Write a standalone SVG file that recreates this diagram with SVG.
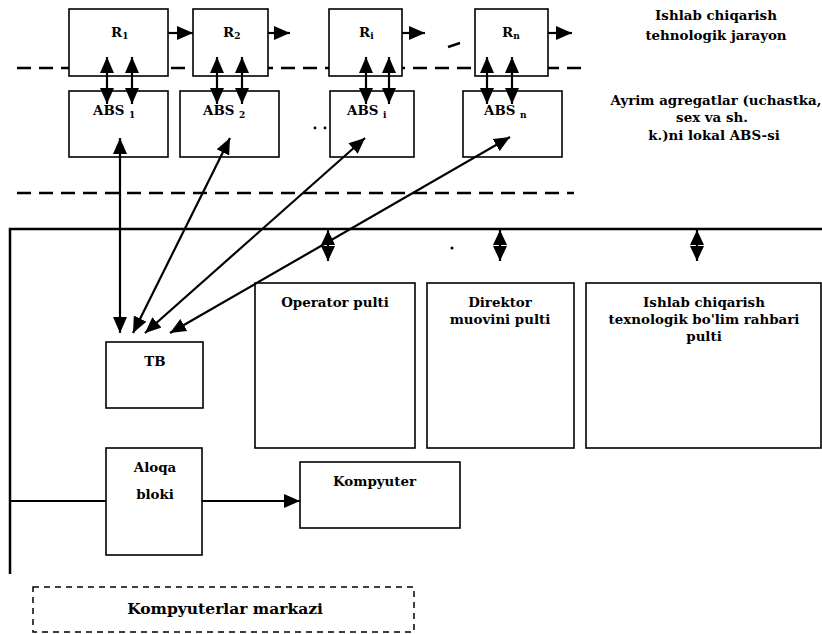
<svg xmlns="http://www.w3.org/2000/svg" width="822" height="634" viewBox="0 0 822 634">
<defs>
<marker id="ah" viewBox="0 0 16 14" refX="16" refY="7" markerWidth="16" markerHeight="14" markerUnits="userSpaceOnUse" orient="auto-start-reverse">
<path d="M0,0 L16,7 L0,14 z" fill="#000"/>
</marker>
<marker id="ahs" viewBox="0 0 15 14" refX="15" refY="7" markerWidth="15" markerHeight="14" markerUnits="userSpaceOnUse" orient="auto-start-reverse">
<path d="M0,0 L15,7 L0,14 z" fill="#000"/>
</marker>
<style>
.box{fill:#fff;stroke:#000;stroke-width:1.6}
.t{font-family:"DejaVu Serif","Liberation Serif",serif;font-weight:bold;font-size:13.4px;fill:#000}
.big{font-size:15.5px}
.c{text-anchor:middle}
.dash{stroke:#000;stroke-width:2.5;stroke-dasharray:14 8;fill:none}
.ar{stroke:#000;stroke-width:2.2;fill:none}
.bus{stroke:#000;stroke-width:2.5;fill:none}
</style>
</defs>

<g id="levels">
<line class="dash" x1="17" y1="68" x2="582" y2="68"/>
<line class="dash" x1="17" y1="193" x2="574" y2="193"/>
</g>

<g id="R1"><rect class="box" x="69" y="9" width="99" height="67"/><text class="t" x="111" y="37">R<tspan font-size="9" dy="2">1</tspan></text></g>
<g id="R2"><rect class="box" x="193" y="9" width="75" height="67"/><text class="t" x="223" y="37">R<tspan font-size="9" dy="2">2</tspan></text></g>
<g id="Ri"><rect class="box" x="329" y="9" width="73" height="67"/><text class="t" x="359" y="37">R<tspan font-size="9" dy="2">i</tspan></text></g>
<g id="Rn"><rect class="box" x="475" y="9" width="73" height="67"/><text class="t" x="502" y="37">R<tspan font-size="9" dy="2">n</tspan></text></g>

<g id="ABS1"><rect class="box" x="69" y="91" width="99" height="66"/><text class="t" x="93" y="115">ABS <tspan font-size="9" dy="3">1</tspan></text></g>
<g id="ABS2"><rect class="box" x="180" y="91" width="99" height="66"/><text class="t" x="203" y="115">ABS <tspan font-size="9" dy="3">2</tspan></text></g>
<g id="ABSi"><rect class="box" x="330" y="91" width="84" height="66"/><text class="t" x="347" y="115">ABS <tspan font-size="9" dy="3">i</tspan></text></g>
<g id="ABSn"><rect class="box" x="463" y="91" width="99" height="66"/><text class="t" x="484" y="115">ABS <tspan font-size="9" dy="3">n</tspan></text></g>

<g id="label-top">
<text class="t c" x="716" y="20">Ishlab chiqarish</text>
<text class="t c" x="716" y="40">tehnologik jarayon</text>
</g>
<g id="label-abs">
<text class="t c" x="716" y="105">Ayrim agregatlar (uchastka,</text>
<text class="t c" x="712" y="122">sex va sh.</text>
<text class="t c" x="714" y="140">k.)ni lokal ABS-si</text>
</g>

<g id="bus-lines">
<path class="bus" d="M10,574 V229 H822"/>
</g>

<g id="OperatorPulti"><rect class="box" x="255" y="283" width="160" height="165"/><text class="t c" x="335" y="307">Operator pulti</text></g>
<g id="DirektorPulti"><rect class="box" x="427" y="283" width="147" height="165"/><text class="t c" x="500" y="307">Direktor</text><text class="t c" x="500" y="324">muovini pulti</text></g>
<g id="RahbarPulti"><rect class="box" x="586" y="283" width="235" height="165"/><text class="t c" x="704" y="307">Ishlab chiqarish</text><text class="t c" x="704" y="324">texnologik bo'lim rahbari</text><text class="t c" x="704" y="341">pulti</text></g>
<g id="TB"><rect class="box" x="106" y="342" width="97" height="66"/><text class="t c" x="155" y="366">TB</text></g>
<g id="AloqaBloki"><rect class="box" x="106" y="448" width="96" height="107"/><text class="t c" x="155" y="472">Aloqa</text><text class="t c" x="155" y="499">bloki</text></g>
<g id="Kompyuter"><rect class="box" x="300" y="462" width="160" height="66"/><text class="t" x="333" y="486">Kompyuter</text></g>
<g id="KompyuterlarMarkazi"><rect x="33" y="587" width="381" height="45" fill="none" stroke="#000" stroke-width="1.5" stroke-dasharray="6 5"/><text class="t c big" x="225" y="614">Kompyuterlar markazi</text></g>

<g id="connectors">
<line class="ar" x1="168" y1="33" x2="193" y2="33" marker-end="url(#ah)"/>
<line class="ar" x1="268" y1="33" x2="290" y2="33" marker-end="url(#ah)"/>
<line class="ar" x1="402" y1="33" x2="425" y2="33" marker-end="url(#ah)"/>
<line class="ar" x1="548" y1="33" x2="572" y2="33" marker-end="url(#ah)"/>

<line class="ar" x1="107" y1="57" x2="107" y2="104" marker-start="url(#ah)" marker-end="url(#ah)"/>
<line class="ar" x1="132" y1="57" x2="132" y2="104" marker-start="url(#ah)" marker-end="url(#ah)"/>
<line class="ar" x1="217" y1="57" x2="217" y2="104" marker-start="url(#ah)" marker-end="url(#ah)"/>
<line class="ar" x1="242" y1="57" x2="242" y2="104" marker-start="url(#ah)" marker-end="url(#ah)"/>
<line class="ar" x1="366" y1="57" x2="366" y2="104" marker-start="url(#ah)" marker-end="url(#ah)"/>
<line class="ar" x1="389" y1="57" x2="389" y2="104" marker-start="url(#ah)" marker-end="url(#ah)"/>
<line class="ar" x1="487" y1="57" x2="487" y2="104" marker-start="url(#ah)" marker-end="url(#ah)"/>
<line class="ar" x1="512" y1="57" x2="512" y2="104" marker-start="url(#ah)" marker-end="url(#ah)"/>

<line class="ar" x1="120" y1="138" x2="120" y2="333" marker-start="url(#ah)" marker-end="url(#ah)"/>
<line class="ar" x1="230" y1="138" x2="133" y2="333" marker-start="url(#ah)" marker-end="url(#ah)"/>
<line class="ar" x1="365" y1="138" x2="145" y2="333" marker-start="url(#ah)" marker-end="url(#ah)"/>
<line class="ar" x1="510" y1="137" x2="170" y2="333" marker-start="url(#ah)" marker-end="url(#ah)"/>

<line class="ar" x1="328" y1="230" x2="328" y2="261" marker-start="url(#ahs)" marker-end="url(#ahs)"/>
<line class="ar" x1="500" y1="230" x2="500" y2="261" marker-start="url(#ahs)" marker-end="url(#ahs)"/>
<line class="ar" x1="697" y1="230" x2="697" y2="261" marker-start="url(#ahs)" marker-end="url(#ahs)"/>

<line class="ar" x1="10" y1="501" x2="106" y2="501"/>
<line class="ar" x1="202" y1="501" x2="300" y2="501" marker-end="url(#ah)"/>
</g>

<g id="marks">
<line x1="448" y1="47" x2="460" y2="43" stroke="#000" stroke-width="2.5"/>
<circle cx="315" cy="128" r="1.4" fill="#000"/>
<circle cx="325" cy="128" r="1.4" fill="#000"/>
<circle cx="452" cy="248" r="1.5" fill="#000"/>
</g>
</svg>
